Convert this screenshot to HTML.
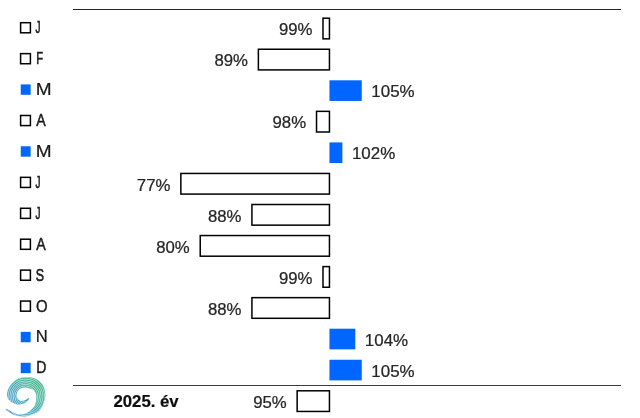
<!DOCTYPE html>
<html><head><meta charset="utf-8"><style>
html,body{margin:0;padding:0;background:#fff;width:640px;height:418px;overflow:hidden}
svg{position:absolute;left:0;top:0;display:block;will-change:transform}
text{font-family:"Liberation Sans",sans-serif;fill:#262626;font-size:17px;stroke:#262626;stroke-width:0.25px}
.m{fill:#1a1a1a;stroke:#1a1a1a;stroke-width:0.4px}
.y{font-weight:bold;fill:#0d0d0d;stroke:#0d0d0d;stroke-width:0.2px}
</style></head><body>
<svg width="640" height="418" viewBox="0 0 640 418">
<rect x="73.00" y="9.00" width="548.00" height="1.00" fill="#262626"/>
<rect x="73.00" y="385.00" width="548.00" height="1.00" fill="#3d3d3d"/>
<rect x="322.99" y="18.20" width="6.46" height="20.65" fill="#fff" stroke="#000" stroke-width="1.5"/>
<rect x="20.60" y="22.70" width="9.80" height="10.10" fill="#fff" stroke="#000" stroke-width="1.5"/>
<rect x="258.38" y="49.25" width="71.07" height="20.65" fill="#fff" stroke="#000" stroke-width="1.5"/>
<rect x="20.60" y="53.63" width="9.80" height="10.10" fill="#fff" stroke="#000" stroke-width="1.5"/>
<rect x="329.45" y="80.30" width="32.31" height="20.65" fill="#0066ff"/>
<rect x="20.75" y="84.41" width="9.90" height="10.40" fill="#0066ff"/>
<rect x="316.53" y="111.35" width="12.92" height="20.65" fill="#fff" stroke="#000" stroke-width="1.5"/>
<rect x="20.60" y="115.49" width="9.80" height="10.10" fill="#fff" stroke="#000" stroke-width="1.5"/>
<rect x="329.45" y="142.40" width="12.92" height="20.65" fill="#0066ff"/>
<rect x="20.75" y="146.27" width="9.90" height="10.40" fill="#0066ff"/>
<rect x="180.85" y="173.45" width="148.60" height="20.65" fill="#fff" stroke="#000" stroke-width="1.5"/>
<rect x="20.60" y="177.35" width="9.80" height="10.10" fill="#fff" stroke="#000" stroke-width="1.5"/>
<rect x="251.92" y="204.50" width="77.53" height="20.65" fill="#fff" stroke="#000" stroke-width="1.5"/>
<rect x="20.60" y="208.28" width="9.80" height="10.10" fill="#fff" stroke="#000" stroke-width="1.5"/>
<rect x="200.23" y="235.55" width="129.22" height="20.65" fill="#fff" stroke="#000" stroke-width="1.5"/>
<rect x="20.60" y="239.21" width="9.80" height="10.10" fill="#fff" stroke="#000" stroke-width="1.5"/>
<rect x="322.99" y="266.60" width="6.46" height="20.65" fill="#fff" stroke="#000" stroke-width="1.5"/>
<rect x="20.60" y="270.14" width="9.80" height="10.10" fill="#fff" stroke="#000" stroke-width="1.5"/>
<rect x="251.92" y="297.65" width="77.53" height="20.65" fill="#fff" stroke="#000" stroke-width="1.5"/>
<rect x="20.60" y="301.07" width="9.80" height="10.10" fill="#fff" stroke="#000" stroke-width="1.5"/>
<rect x="329.45" y="328.70" width="25.84" height="20.65" fill="#0066ff"/>
<rect x="20.75" y="331.85" width="9.90" height="10.40" fill="#0066ff"/>
<rect x="329.45" y="359.75" width="32.31" height="20.65" fill="#0066ff"/>
<rect x="20.75" y="362.78" width="9.90" height="10.40" fill="#0066ff"/>
<rect x="297.14" y="390.80" width="32.31" height="20.65" fill="#fff" stroke="#000" stroke-width="1.5"/>
<text x="20.00" y="40.00" class="v" transform="translate(295.89 29.45) scale(0.9863 0.9959) translate(-37.12 -34.12)">99%</text>
<text x="120.00" y="40.00" class="v" transform="translate(231.28 60.49) scale(0.9863 0.9959) translate(-137.12 -34.12)">89%</text>
<text x="220.00" y="40.00" class="v" transform="translate(393.36 91.53) scale(0.9964 0.9959) translate(-242.12 -34.12)">105%</text>
<text x="320.00" y="40.00" class="v" transform="translate(289.43 122.57) scale(0.9863 0.9959) translate(-337.12 -34.12)">98%</text>
<text x="420.00" y="40.00" class="v" transform="translate(373.97 153.61) scale(0.9964 0.9959) translate(-442.12 -34.12)">102%</text>
<text x="520.00" y="40.00" class="v" transform="translate(153.75 184.65) scale(0.9863 0.9959) translate(-537.12 -34.12)">77%</text>
<text x="20.00" y="80.00" class="v" transform="translate(224.82 215.69) scale(0.9863 0.9959) translate(-37.12 -74.12)">88%</text>
<text x="120.00" y="80.00" class="v" transform="translate(173.13 246.73) scale(0.9863 0.9959) translate(-137.12 -74.12)">80%</text>
<text x="220.00" y="80.00" class="v" transform="translate(295.89 277.77) scale(0.9863 0.9959) translate(-237.12 -74.12)">99%</text>
<text x="320.00" y="80.00" class="v" transform="translate(224.82 308.81) scale(0.9863 0.9959) translate(-337.12 -74.12)">88%</text>
<text x="420.00" y="80.00" class="v" transform="translate(386.89 339.85) scale(0.9964 0.9959) translate(-442.12 -74.12)">104%</text>
<text x="520.00" y="80.00" class="v" transform="translate(393.36 370.89) scale(0.9964 0.9959) translate(-542.12 -74.12)">105%</text>
<text x="20.00" y="120.00" class="v" transform="translate(270.05 401.93) scale(0.9863 0.9959) translate(-37.12 -114.12)">95%</text>
<text style="stroke-width:0.60px" x="120.00" y="120.00" class="m" transform="translate(37.80 27.70) scale(0.5867 0.9583) translate(-123.75 -114.25)">J</text>
<text style="stroke-width:0.60px" x="220.00" y="120.00" class="m" transform="translate(40.10 58.63) scale(0.6629 0.9667) translate(-225.62 -114.25)">F</text>
<text style="stroke-width:0.25px" x="320.00" y="120.00" class="m" transform="translate(43.62 89.56) scale(1.1191 0.9500) translate(-327.12 -114.25)">M</text>
<text style="stroke-width:0.50px" x="420.00" y="120.00" class="m" transform="translate(41.06 120.49) scale(0.8340 0.9667) translate(-425.62 -114.25)">A</text>
<text style="stroke-width:0.25px" x="520.00" y="120.00" class="m" transform="translate(43.62 151.42) scale(1.1191 0.9500) translate(-527.12 -114.25)">M</text>
<text style="stroke-width:0.60px" x="20.00" y="160.00" class="m" transform="translate(37.80 182.35) scale(0.5867 0.9583) translate(-23.75 -154.25)">J</text>
<text style="stroke-width:0.60px" x="120.00" y="160.00" class="m" transform="translate(37.80 213.28) scale(0.5867 0.9583) translate(-123.75 -154.25)">J</text>
<text style="stroke-width:0.50px" x="220.00" y="160.00" class="m" transform="translate(41.06 244.21) scale(0.8340 0.9667) translate(-225.62 -154.25)">A</text>
<text style="stroke-width:0.60px" x="320.00" y="160.00" class="m" transform="translate(39.85 275.14) scale(0.7317 0.9878) translate(-325.62 -154.12)">S</text>
<text style="stroke-width:0.39px" x="420.00" y="160.00" class="m" transform="translate(41.62 306.07) scale(0.8792 0.9306) translate(-426.50 -154.12)">O</text>
<text style="stroke-width:0.25px" x="520.00" y="160.00" class="m" transform="translate(41.75 337.00) scale(0.9744 0.9500) translate(-526.12 -154.25)">N</text>
<text style="stroke-width:0.52px" x="20.00" y="200.00" class="m" transform="translate(41.62 367.93) scale(0.8238 0.9500) translate(-26.50 -194.25)">D</text>
<text x="120.00" y="200.00" class="y" transform="translate(146.40 401.15) scale(0.9856 0.9647) translate(-153.38 -193.88)">2025. év</text>
<defs><linearGradient id="lg" gradientUnits="userSpaceOnUse" x1="8" y1="414" x2="44" y2="380">
<stop offset="0" stop-color="#4a90d6"/><stop offset="0.35" stop-color="#3fa5c2"/><stop offset="0.6" stop-color="#3aae9f"/><stop offset="1" stop-color="#38b775"/></linearGradient>
<clipPath id="cp"><path d="M6.80,410.60 C8.12,411.60 11.47,414.03 14.50,415.00 C17.53,415.97 21.48,416.73 25.00,416.40 C28.52,416.07 32.97,414.28 35.60,413.00 C38.23,411.72 39.30,410.87 40.80,408.70 C42.30,406.53 43.85,402.45 44.60,400.00 C45.35,397.55 45.48,396.25 45.30,394.00 C45.12,391.75 44.60,388.70 43.50,386.50 C42.40,384.30 40.62,382.28 38.70,380.80 C36.78,379.32 34.28,378.23 32.00,377.60 C29.72,376.97 27.50,376.72 25.00,377.00 C22.50,377.28 19.45,377.87 17.00,379.30 C14.55,380.73 11.92,383.48 10.30,385.60 C8.68,387.72 7.80,390.18 7.30,392.00 C6.80,393.82 7.05,395.20 7.30,396.50 C7.55,397.80 8.05,398.83 8.80,399.80 C9.55,400.77 10.67,401.62 11.80,402.30 C12.93,402.98 14.27,403.53 15.60,403.90 C16.93,404.27 18.32,404.60 19.80,404.50 C21.28,404.40 23.20,403.92 24.50,403.30 C25.80,402.68 26.85,401.58 27.60,400.80 C28.35,400.02 28.90,399.03 29.00,398.60 C29.10,398.17 28.87,397.93 28.20,398.20 C27.53,398.47 26.20,399.75 25.00,400.20 C23.80,400.65 22.13,401.05 21.00,400.90 C19.87,400.75 18.92,400.12 18.20,399.30 C17.48,398.48 16.87,397.22 16.70,396.00 C16.53,394.78 16.73,393.12 17.20,392.00 C17.67,390.88 18.53,390.00 19.50,389.30 C20.47,388.60 21.67,388.03 23.00,387.80 C24.33,387.57 25.93,387.65 27.50,387.90 C29.07,388.15 31.12,388.58 32.40,389.30 C33.68,390.02 34.55,391.08 35.20,392.20 C35.85,393.32 36.17,394.53 36.30,396.00 C36.43,397.47 36.28,399.37 36.00,401.00 C35.72,402.63 35.53,404.27 34.60,405.80 C33.67,407.33 31.92,408.90 30.40,410.20 C28.88,411.50 27.23,412.87 25.50,413.60 C23.77,414.33 21.83,414.67 20.00,414.60 C18.17,414.53 16.73,414.13 14.50,413.20 C12.27,412.27 7.88,409.43 6.60,409.00 C5.32,408.57 5.48,409.60 6.80,410.60Z"/></clipPath></defs>
<path d="M6.80,410.60 C8.12,411.60 11.47,414.03 14.50,415.00 C17.53,415.97 21.48,416.73 25.00,416.40 C28.52,416.07 32.97,414.28 35.60,413.00 C38.23,411.72 39.30,410.87 40.80,408.70 C42.30,406.53 43.85,402.45 44.60,400.00 C45.35,397.55 45.48,396.25 45.30,394.00 C45.12,391.75 44.60,388.70 43.50,386.50 C42.40,384.30 40.62,382.28 38.70,380.80 C36.78,379.32 34.28,378.23 32.00,377.60 C29.72,376.97 27.50,376.72 25.00,377.00 C22.50,377.28 19.45,377.87 17.00,379.30 C14.55,380.73 11.92,383.48 10.30,385.60 C8.68,387.72 7.80,390.18 7.30,392.00 C6.80,393.82 7.05,395.20 7.30,396.50 C7.55,397.80 8.05,398.83 8.80,399.80 C9.55,400.77 10.67,401.62 11.80,402.30 C12.93,402.98 14.27,403.53 15.60,403.90 C16.93,404.27 18.32,404.60 19.80,404.50 C21.28,404.40 23.20,403.92 24.50,403.30 C25.80,402.68 26.85,401.58 27.60,400.80 C28.35,400.02 28.90,399.03 29.00,398.60 C29.10,398.17 28.87,397.93 28.20,398.20 C27.53,398.47 26.20,399.75 25.00,400.20 C23.80,400.65 22.13,401.05 21.00,400.90 C19.87,400.75 18.92,400.12 18.20,399.30 C17.48,398.48 16.87,397.22 16.70,396.00 C16.53,394.78 16.73,393.12 17.20,392.00 C17.67,390.88 18.53,390.00 19.50,389.30 C20.47,388.60 21.67,388.03 23.00,387.80 C24.33,387.57 25.93,387.65 27.50,387.90 C29.07,388.15 31.12,388.58 32.40,389.30 C33.68,390.02 34.55,391.08 35.20,392.20 C35.85,393.32 36.17,394.53 36.30,396.00 C36.43,397.47 36.28,399.37 36.00,401.00 C35.72,402.63 35.53,404.27 34.60,405.80 C33.67,407.33 31.92,408.90 30.40,410.20 C28.88,411.50 27.23,412.87 25.50,413.60 C23.77,414.33 21.83,414.67 20.00,414.60 C18.17,414.53 16.73,414.13 14.50,413.20 C12.27,412.27 7.88,409.43 6.60,409.00 C5.32,408.57 5.48,409.60 6.80,410.60Z" fill="url(#lg)"/>
<g clip-path="url(#cp)" fill="none" stroke="#fff" stroke-width="0.75" stroke-opacity="0.8"><circle cx="25.5" cy="396.5" r="5.50"/><circle cx="25.5" cy="396.5" r="7.20"/><circle cx="25.5" cy="396.5" r="8.90"/><circle cx="25.5" cy="396.5" r="10.60"/><circle cx="25.5" cy="396.5" r="12.30"/><circle cx="25.5" cy="396.5" r="14.00"/><circle cx="25.5" cy="396.5" r="15.70"/><circle cx="25.5" cy="396.5" r="17.40"/><circle cx="25.5" cy="396.5" r="19.10"/><circle cx="25.5" cy="396.5" r="20.80"/><circle cx="25.5" cy="396.5" r="22.50"/><circle cx="25.5" cy="396.5" r="24.20"/></g>
</svg>
</body></html>
